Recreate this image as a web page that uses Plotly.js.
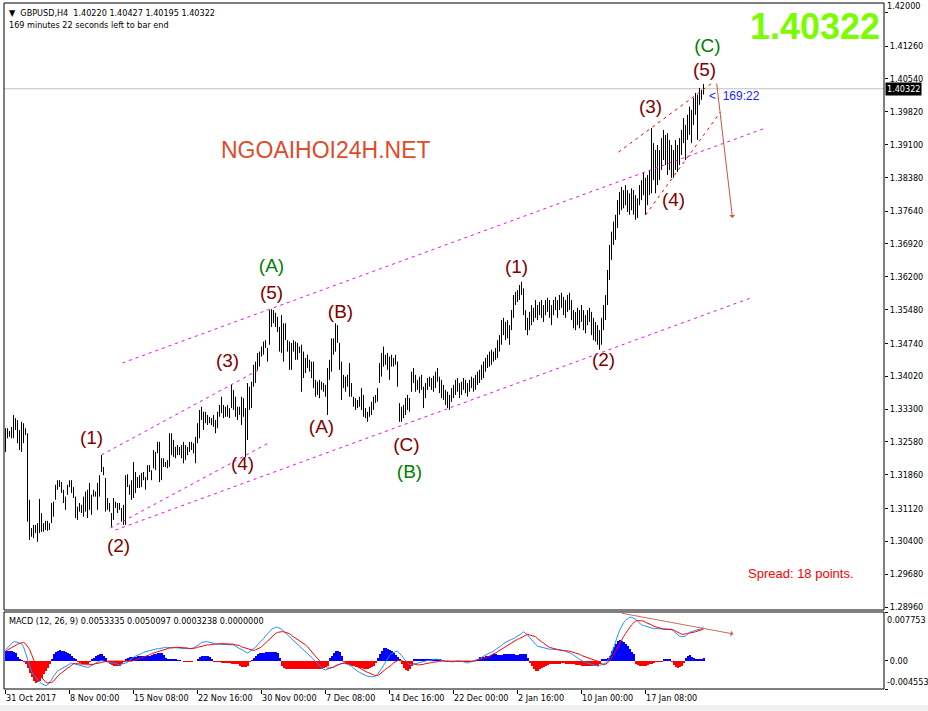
<!DOCTYPE html>
<html><head><meta charset="utf-8">
<script src="https://cdn.plot.ly/plotly-3.0.1.min.js"></script>
<style>html,body{margin:0;padding:0;background:#fff;}#chart{width:928px;height:711px;}</style>
</head><body><div id="chart"></div><script>
// GBPUSD H4 bars (high / low), one per bar, oldest first
const high = [
1.3288,1.3288,1.3282,1.3291,1.3317,1.3310,1.3306,1.3284,1.3302,1.3299,
1.3288,1.3277,1.3131,1.3069,1.3076,1.3076,1.3080,1.3133,1.3102,1.3080,
1.3085,1.3085,1.3080,1.3124,1.3127,1.3164,1.3174,1.3174,1.3170,1.3153,
1.3138,1.3164,1.3174,1.3174,1.3159,1.3138,1.3116,1.3124,1.3120,1.3138,
1.3149,1.3153,1.3168,1.3142,1.3153,1.3149,1.3168,1.3185,1.3229,1.3203,
1.3179,1.3135,1.3124,1.3102,1.3135,1.3127,1.3124,1.3124,1.3113,1.3120,
1.3185,1.3187,1.3164,1.3174,1.3214,1.3192,1.3181,1.3185,1.3190,1.3192,
1.3181,1.3207,1.3207,1.3196,1.3240,1.3236,1.3258,1.3258,1.3222,1.3222,
1.3214,1.3218,1.3277,1.3277,1.3262,1.3247,1.3251,1.3247,1.3251,1.3258,
1.3251,1.3247,1.3258,1.3258,1.3255,1.3269,1.3299,1.3328,1.3335,1.3324,
1.3324,1.3317,1.3313,1.3310,1.3317,1.3306,1.3324,1.3339,1.3357,1.3339,
1.3335,1.3339,1.3332,1.3383,1.3372,1.3357,1.3335,1.3335,1.3357,1.3354,
1.3332,1.3387,1.3379,1.3390,1.3427,1.3434,1.3453,1.3456,1.3467,1.3478,
1.3481,1.3464,1.3547,1.3549,1.3547,1.3541,1.3532,1.3510,1.3536,1.3518,
1.3518,1.3481,1.3478,1.3475,1.3481,1.3478,1.3475,1.3467,1.3471,1.3456,
1.3442,1.3449,1.3438,1.3434,1.3434,1.3394,1.3390,1.3394,1.3390,1.3387,
1.3383,1.3420,1.3438,1.3485,1.3485,1.3518,1.3514,1.3475,1.3434,1.3405,
1.3401,1.3405,1.3431,1.3387,1.3357,1.3354,1.3350,1.3357,1.3376,1.3361,
1.3332,1.3324,1.3335,1.3346,1.3357,1.3361,1.3376,1.3431,1.3453,1.3467,
1.3449,1.3453,1.3445,1.3449,1.3442,1.3449,1.3434,1.3343,1.3335,1.3339,
1.3354,1.3361,1.3354,1.3412,1.3420,1.3405,1.3394,1.3401,1.3405,1.3379,
1.3387,1.3398,1.3401,1.3398,1.3403,1.3412,1.3420,1.3401,1.3394,1.3383,
1.3372,1.3368,1.3361,1.3376,1.3383,1.3394,1.3398,1.3387,1.3390,1.3398,
1.3394,1.3387,1.3394,1.3401,1.3398,1.3405,1.3412,1.3416,1.3427,1.3434,
1.3442,1.3449,1.3456,1.3460,1.3456,1.3464,1.3481,1.3492,1.3525,1.3530,
1.3521,1.3525,1.3514,1.3547,1.3580,1.3587,1.3591,1.3602,1.3609,1.3595,
1.3547,1.3530,1.3543,1.3558,1.3552,1.3569,1.3558,1.3565,1.3569,1.3558,
1.3569,1.3574,1.3569,1.3558,1.3569,1.3576,1.3569,1.3580,1.3585,1.3576,
1.3569,1.3580,1.3585,1.3569,1.3547,1.3543,1.3552,1.3547,1.3558,1.3547,
1.3536,1.3547,1.3552,1.3543,1.3530,1.3521,1.3514,1.3503,1.3530,1.3558,
1.3580,1.3635,1.3690,1.3719,1.3741,1.3756,1.3788,1.3806,1.3817,1.3810,
1.3821,1.3810,1.3803,1.3814,1.3810,1.3799,1.3792,1.3821,1.3832,1.3850,
1.3837,1.3843,1.3854,1.3946,1.3913,1.3898,1.3909,1.3898,1.3924,1.3942,
1.3931,1.3935,1.3920,1.3909,1.3898,1.3920,1.3909,1.3924,1.3942,1.3968,
1.3953,1.3975,1.3993,1.3986,1.4012,1.4023,1.4019,1.4034,1.4030,1.40427];
const low = [
1.3236,1.3266,1.3269,1.3266,1.3266,1.3284,1.3255,1.3240,1.3236,1.3255,
1.3273,1.3083,1.3043,1.3050,1.3047,1.3058,1.3039,1.3058,1.3061,1.3061,
1.3065,1.3063,1.3065,1.3080,1.3094,1.3131,1.3153,1.3159,1.3146,1.3124,
1.3109,1.3142,1.3159,1.3146,1.3135,1.3091,1.3087,1.3105,1.3102,1.3094,
1.3105,1.3091,1.3109,1.3098,1.3138,1.3138,1.3109,1.3138,1.3192,1.3185,
1.3105,1.3109,1.3105,1.3072,1.3087,1.3113,1.3102,1.3109,1.3083,1.3076,
1.3076,1.3159,1.3142,1.3131,1.3135,1.3146,1.3157,1.3157,1.3159,1.3174,
1.3153,1.3174,1.3192,1.3174,1.3200,1.3196,1.3233,1.3170,1.3174,1.3203,
1.3203,1.3200,1.3203,1.3229,1.3225,1.3222,1.3229,1.3229,1.3222,1.3211,
1.3218,1.3229,1.3236,1.3240,1.3233,1.3211,1.3255,1.3266,1.3306,1.3284,
1.3299,1.3295,1.3299,1.3295,1.3291,1.3277,1.3288,1.3313,1.3321,1.3310,
1.3313,1.3313,1.3310,1.3332,1.3328,1.3313,1.3306,1.3317,1.3295,1.3313,
1.3225,1.3262,1.3328,1.3332,1.3379,1.3387,1.3416,1.3423,1.3445,1.3449,
1.3464,1.3434,1.3471,1.3510,1.3518,1.3510,1.3499,1.3456,1.3453,1.3434,
1.3481,1.3456,1.3416,1.3416,1.3456,1.3438,1.3438,1.3453,1.3368,1.3398,
1.3409,1.3420,1.3412,1.3398,1.3376,1.3357,1.3361,1.3354,1.3372,1.3368,
1.3357,1.3317,1.3394,1.3412,1.3449,1.3456,1.3475,1.3416,1.3350,1.3376,
1.3368,1.3379,1.3357,1.3357,1.3335,1.3328,1.3332,1.3335,1.3328,1.3313,
1.3310,1.3302,1.3313,1.3317,1.3328,1.3343,1.3346,1.3387,1.3401,1.3423,
1.3427,1.3416,1.3394,1.3423,1.3423,1.3427,1.3379,1.3302,1.3302,1.3310,
1.3317,1.3328,1.3324,1.3368,1.3387,1.3368,1.3372,1.3365,1.3372,1.3332,
1.3354,1.3372,1.3379,1.3372,1.3368,1.3376,1.3390,1.3365,1.3354,1.3350,
1.3339,1.3332,1.3328,1.3346,1.3354,1.3361,1.3368,1.3354,1.3361,1.3372,
1.3365,1.3357,1.3368,1.3376,1.3368,1.3372,1.3383,1.3387,1.3394,1.3398,
1.3412,1.3420,1.3423,1.3427,1.3434,1.3438,1.3442,1.3456,1.3471,1.3492,
1.3481,1.3485,1.3471,1.3503,1.3530,1.3558,1.3565,1.3569,1.3580,1.3536,
1.3503,1.3492,1.3503,1.3514,1.3521,1.3530,1.3525,1.3536,1.3530,1.3521,
1.3536,1.3543,1.3530,1.3514,1.3536,1.3547,1.3530,1.3547,1.3552,1.3536,
1.3530,1.3543,1.3547,1.3525,1.3507,1.3503,1.3514,1.3507,1.3521,1.3503,
1.3496,1.3514,1.3521,1.3492,1.3481,1.3478,1.3471,1.3460,1.3471,1.3503,
1.3525,1.3558,1.3613,1.3657,1.3690,1.3701,1.3727,1.3756,1.3766,1.3770,
1.3777,1.3762,1.3756,1.3766,1.3756,1.3745,1.3749,1.3777,1.3788,1.3799,
1.3756,1.3777,1.3799,1.3803,1.3832,1.3803,1.3821,1.3832,1.3854,1.3876,
1.3865,1.3843,1.3854,1.3837,1.3837,1.3854,1.3850,1.3865,1.3887,1.3913,
1.3876,1.3920,1.3931,1.3913,1.3953,1.3975,1.3920,1.3997,1.4008,1.40195];
// MACD (12, 26, 9): main line, signal line, histogram (main - signal)
const macdMain = [
.0017,.0020,.0024,.0027,.0030,.0030,.0029,.0029,.0027,.0022,
.0012,.0000,-.0010,-.0017,-.0023,-.0027,-.0031,-.0034,-.0037,-.0039,
-.0040,-.0039,-.0035,-.0031,-.0025,-.0020,-.0017,-.0015,-.0013,-.0011,
-.0009,-.0007,-.0005,-.0004,-.0005,-.0006,-.0007,-.0008,-.0008,-.0009,
-.0010,-.0011,-.0010,-.0008,-.0007,-.0005,-.0003,-.0001,.0000,-.0001,
-.0002,-.0002,-.0003,-.0004,-.0004,-.0005,-.0006,-.0007,-.0006,-.0005,
-.0004,-.0003,.0000,.0003,.0005,.0007,.0008,.0010,.0011,.0013,
.0014,.0015,.0016,.0017,.0018,.0018,.0019,.0019,.0020,.0020,
.0021,.0021,.0021,.0021,.0021,.0021,.0020,.0020,.0019,.0019,
.0019,.0018,.0018,.0019,.0020,.0022,.0023,.0026,.0029,.0030,
.0030,.0030,.0029,.0028,.0027,.0027,.0026,.0026,.0026,.0026,
.0026,.0026,.0025,.0025,.0025,.0023,.0021,.0019,.0017,.0015,
.0013,.0012,.0014,.0016,.0018,.0021,.0025,.0028,.0032,.0035,
.0039,.0042,.0046,.0050,.0052,.0053,.0053,.0052,.0050,.0047,
.0044,.0041,.0038,.0035,.0033,.0030,.0027,.0024,.0021,.0018,
.0015,.0012,.0009,.0005,.0002,-.0002,-.0005,-.0009,-.0012,-.0014,
-.0015,-.0014,-.0012,-.0011,-.0010,-.0008,-.0007,-.0006,-.0005,-.0004,
-.0005,-.0006,-.0007,-.0009,-.0012,-.0015,-.0017,-.0019,-.0021,-.0023,
-.0024,-.0025,-.0026,-.0026,-.0026,-.0025,-.0022,-.0018,-.0013,-.0008,
-.0002,.0004,.0008,.0011,.0013,.0014,.0015,.0012,.0008,.0004,
-.0001,-.0004,-.0006,-.0007,-.0006,-.0005,-.0004,-.0003,-.0002,-.0001,
-.0001,.0000,.0000,.0001,.0001,.0002,.0002,.0001,.0001,.0000,
-.0001,-.0001,-.0002,-.0002,-.0002,-.0001,-.0001,-.0001,-.0001,-.0002,
-.0003,-.0004,-.0003,-.0002,-.0001,.0000,.0002,.0003,.0005,.0007,
.0008,.0010,.0012,.0013,.0015,.0017,.0019,.0021,.0024,.0027,
.0029,.0031,.0033,.0034,.0035,.0037,.0039,.0040,.0043,.0046,
.0044,.0041,.0037,.0033,.0029,.0026,.0023,.0022,.0021,.0021,
.0020,.0019,.0018,.0018,.0018,.0018,.0018,.0017,.0017,.0016,
.0015,.0014,.0013,.0011,.0009,.0006,.0004,.0002,.0000,-.0002,
-.0003,-.0004,-.0005,-.0006,-.0007,-.0008,-.0009,-.0008,-.0007,-.0006,
-.0004,-.0001,.0005,.0011,.0020,.0031,.0039,.0048,.0055,.0060,
.0064,.0067,.0069,.0069,.0068,.0066,.0063,.0060,.0057,.0056,
.0055,.0053,.0052,.0051,.0051,.0051,.0051,.0051,.0051,.0051,
.0051,.0051,.0051,.0050,.0047,.0044,.0041,.0039,.0038,.0038,
.0039,.0042,.0045,.0046,.0047,.0048,.0048,.0049,.0051,.0053335];
const macdSignal = [
.0015,.0017,.0019,.0020,.0022,.0024,.0026,.0027,.0028,.0029,
.0027,.0023,.0018,.0010,.0002,-.0007,-.0016,-.0022,-.0027,-.0031,
-.0034,-.0036,-.0036,-.0035,-.0033,-.0029,-.0026,-.0022,-.0020,-.0017,
-.0014,-.0012,-.0010,-.0007,-.0005,-.0005,-.0005,-.0005,-.0005,-.0005,
-.0006,-.0007,-.0007,-.0006,-.0006,-.0005,-.0005,-.0004,-.0003,-.0002,
-.0001,-.0001,-.0001,-.0001,-.0001,-.0001,-.0002,-.0002,-.0002,-.0002,
-.0002,-.0002,-.0002,-.0001,.0000,.0001,.0002,.0003,.0004,.0006,
.0007,.0008,.0009,.0011,.0012,.0014,.0015,.0016,.0017,.0018,
.0019,.0019,.0020,.0020,.0021,.0021,.0021,.0021,.0021,.0020,
.0020,.0020,.0019,.0019,.0019,.0020,.0021,.0022,.0023,.0023,
.0024,.0025,.0025,.0026,.0026,.0026,.0027,.0027,.0027,.0027,
.0027,.0027,.0027,.0026,.0026,.0025,.0025,.0024,.0022,.0021,
.0019,.0018,.0017,.0016,.0016,.0017,.0018,.0020,.0022,.0025,
.0028,.0031,.0034,.0037,.0041,.0043,.0045,.0046,.0046,.0046,
.0045,.0045,.0043,.0040,.0038,.0036,.0034,.0032,.0030,.0027,
.0025,.0022,.0018,.0014,.0010,.0007,.0003,.0000,-.0003,-.0006,
-.0009,-.0012,-.0012,-.0012,-.0011,-.0009,-.0007,-.0006,-.0005,-.0004,
-.0004,-.0004,-.0005,-.0006,-.0007,-.0009,-.0010,-.0012,-.0014,-.0016,
-.0018,-.0019,-.0020,-.0022,-.0023,-.0024,-.0024,-.0022,-.0019,-.0017,
-.0014,-.0012,-.0010,-.0007,-.0004,-.0002,.0000,.0000,.0000,-.0001,
-.0002,-.0003,-.0004,-.0005,-.0006,-.0006,-.0007,-.0007,-.0007,-.0006,
-.0005,-.0005,-.0004,-.0003,-.0003,-.0002,-.0002,-.0001,-.0001,-.0001,
-.0001,-.0001,-.0001,-.0001,-.0001,-.0001,-.0001,-.0001,-.0001,-.0001,
-.0001,-.0001,-.0001,-.0001,-.0001,-.0001,.0001,.0002,.0002,.0003,
.0004,.0006,.0007,.0009,.0010,.0012,.0014,.0016,.0018,.0021,
.0023,.0025,.0027,.0029,.0030,.0032,.0034,.0035,.0037,.0039,
.0040,.0042,.0041,.0040,.0039,.0038,.0035,.0032,.0030,.0028,
.0025,.0023,.0021,.0020,.0019,.0018,.0017,.0017,.0016,.0016,
.0016,.0016,.0015,.0014,.0013,.0012,.0012,.0010,.0008,.0007,
.0005,.0004,.0003,.0002,.0001,.0000,-.0001,-.0003,-.0005,-.0007,
-.0006,-.0004,-.0001,.0004,.0010,.0016,.0021,.0027,.0033,.0038,
.0043,.0048,.0053,.0057,.0060,.0063,.0064,.0064,.0064,.0063,
.0061,.0060,.0058,.0057,.0055,.0054,.0052,.0051,.0051,.0050,
.0050,.0050,.0049,.0049,.0049,.0047,.0045,.0043,.0042,.0042,
.0042,.0043,.0044,.0044,.0045,.0046,.0047,.0048,.0049,.0050097];
const macdHist = [
.0016,.0016,.0016,.0015,.0014,.0012,.0006,.0002,.0001,-.0002,
-.0006,-.0012,-.0020,-.0027,-.0033,-.0036,-.0035,-.0032,-.0028,-.0022,
-.0017,-.0012,-.0005,.0002,.0010,.0014,.0016,.0017,.0016,.0015,
.0013,.0012,.0010,.0007,.0004,.0002,-.0003,-.0004,-.0005,-.0005,
-.0006,-.0005,-.0002,.0002,.0004,.0007,.0009,.0010,.0011,.0008,
.0004,-.0002,-.0005,-.0007,-.0008,-.0009,-.0009,-.0008,-.0006,-.0003,
.0002,.0004,.0005,.0005,.0005,.0006,.0007,.0007,.0007,.0007,
.0007,.0007,.0008,.0009,.0010,.0011,.0012,.0012,.0012,.0009,
.0004,.0002,.0002,.0002,.0002,.0002,.0001,.0001,-.0001,-.0002,
-.0002,-.0002,-.0002,-.0002,-.0001,-.0001,.0003,.0006,.0007,.0007,
.0007,.0007,.0006,.0002,-.0003,-.0003,-.0003,-.0003,-.0004,-.0004,
-.0004,-.0004,-.0004,-.0005,-.0005,-.0006,-.0006,-.0008,-.0010,-.0011,
-.0010,-.0008,-.0003,.0001,.0004,.0007,.0010,.0012,.0012,.0012,
.0013,.0013,.0013,.0014,.0014,.0013,.0012,.0004,-.0008,-.0012,
-.0013,-.0014,-.0014,-.0014,-.0014,-.0014,-.0014,-.0014,-.0014,-.0014,
-.0014,-.0014,-.0014,-.0014,-.0014,-.0013,-.0013,-.0013,-.0013,-.0012,
-.0011,-.0008,.0004,.0008,.0012,.0015,.0016,.0013,.0008,-.0003,
-.0005,-.0006,-.0007,-.0008,-.0009,-.0010,-.0011,-.0012,-.0012,-.0013,
-.0013,-.0013,-.0012,-.0011,-.0009,-.0004,.0004,.0010,.0016,.0020,
.0020,.0019,.0017,.0015,.0012,.0009,.0006,.0003,-.0006,-.0012,
-.0015,-.0016,-.0013,-.0008,.0002,.0003,.0003,.0003,.0002,.0003,
.0003,.0002,.0003,.0003,.0003,.0002,.0002,.0002,.0001,-.0001,
-.0002,-.0002,-.0002,-.0002,-.0002,-.0002,-.0002,-.0002,-.0002,-.0002,
-.0003,-.0003,-.0002,-.0002,-.0001,.0001,.0003,.0005,.0005,.0006,
.0007,.0007,.0008,.0009,.0010,.0010,.0009,.0009,.0009,.0010,
.0011,.0011,.0011,.0010,.0010,.0009,.0009,.0010,.0010,.0010,
.0010,.0004,-.0004,-.0009,-.0014,-.0017,-.0016,-.0014,-.0012,-.0010,
-.0008,-.0007,-.0006,-.0005,-.0005,-.0005,-.0005,-.0005,-.0004,-.0004,
-.0005,-.0005,-.0005,-.0006,-.0006,-.0007,-.0007,-.0007,-.0008,-.0008,
-.0008,-.0008,-.0008,-.0008,-.0008,-.0008,-.0008,-.0006,.0002,.0002,
.0003,.0004,.0008,.0015,.0021,.0027,.0031,.0032,.0031,.0030,
.0026,.0023,.0019,.0014,.0010,-.0005,-.0007,-.0008,-.0009,-.0009,
-.0008,-.0007,-.0006,-.0005,-.0004,-.0003,-.0003,-.0002,-.0002,.0002,
.0002,.0002,.0002,-.0003,-.0007,-.0010,-.0012,-.0011,-.0008,-.0004,
.0004,.0008,.0009,.0006,.0004,.0002,.0002,.0002,.0002,.0003238];

// time axis labels (bar index where each label sits)
const timeTickIdx = [0,32,64,96,128,160,192,224,256,288,320];
const timeTickText = ['31 Oct 2017','8 Nov 00:00','15 Nov 08:00','22 Nov 16:00','30 Nov 00:00','7 Dec 08:00','14 Dec 16:00','22 Dec 00:00','2 Jan 16:00','10 Jan 00:00','17 Jan 08:00'];
// price axis labels
const priceTicks = [1.42000,1.41260,1.40540,1.39820,1.39100,1.38380,1.37640,1.36920,1.36200,1.35480,1.34740,1.34020,1.33300,1.32580,1.31860,1.31120,1.30400,1.29680,1.28960];
const macdTicks = [0.007753,0,-0.004553];
const lastPrice = 1.40322;
const lastOHLC = [1.40220,1.40427,1.40195,1.40322];
const macdLast = [0.0053335,0.0050097,0.0003238,0.0000000];

// Elliott wave labels (bar index, price)
const waveText = ['(1)','(2)','(3)','(4)','(5)','(A)','(B)','(A)','(C)','(B)','(1)','(2)','(3)','(4)','(5)','(C)'];
const waveX = [43,56.5,111,118.5,133,133,167.5,158,200.5,202,255.5,299,322.5,334,349.5,351];
const waveY = [1.32643,1.30275,1.34331,1.32073,1.35822,1.36414,1.35405,1.32884,1.32489,1.31897,1.36392,1.34353,1.39900,1.37861,1.40711,1.41238];
const waveDegree = ['minor','minor','minor','minor','minor','major','minor','minor','minor','major','minor','minor','minor','minor','minor','major'];

// channel lines (bar index, price) start -> end
const chanX0 = [58.5,55,48,52.5,306.5,320];
const chanY0 = [1.34310,1.30648,1.32293,1.30692,1.38934,1.37555];
const chanX1 = [380,372.5,126.5,131.5,354,357.5];
const chanY1 = [1.39462,1.35734,1.34156,1.32555,1.40470,1.39813];
const chanKind = ['main','main','main','main','wave','wave'];
// projection arrows: price pane and MACD pane (tail -> head)
const priceArrow = {x0:355.5, y0:1.40470, x1:363.5, y1:1.37489};
const macdArrow = {x0:307.5, y0:0.00759, x1:364, y1:0.00424};

const UI = 'DejaVu Sans Condensed, Liberation Sans, sans-serif';
const ARIAL = 'Liberation Sans, Arial, sans-serif';

const idx = high.map((_, i) => i);
const bx = [], by = [];
for (let i = 0; i < high.length; i++) { bx.push(i, i, null); by.push(low[i], high[i], null); }

const traces = [
  {type:'scatter', mode:'lines', x:bx, y:by, xaxis:'x', yaxis:'y',
   line:{color:'#000000', width:1}, hoverinfo:'skip', connectgaps:false},
  {type:'bar', x:idx, y:macdHist, xaxis:'x', yaxis:'y2', width:1,
   marker:{color:macdHist.map(v => v >= 0 ? '#0000FF' : '#FF0000'), line:{width:0}}, hoverinfo:'skip'},
  {type:'scatter', mode:'lines', x:idx, y:macdMain, xaxis:'x', yaxis:'y2',
   line:{color:'#1E90FF', width:1}, hoverinfo:'skip'},
  {type:'scatter', mode:'lines', x:idx, y:macdSignal, xaxis:'x', yaxis:'y2',
   line:{color:'#FF0000', width:1}, hoverinfo:'skip'},
  {type:'scatter', mode:'text', x:waveX, y:waveY, text:waveText, xaxis:'x', yaxis:'y',
   textposition:'middle center', cliponaxis:false,
   textfont:{family:ARIAL, size:19, color:waveDegree.map(d => d === 'major' ? '#008000' : '#800000')},
   hoverinfo:'skip'}
];

// plot area in pixels: left 4, right 884, top 3, bottom 689; main pane bottom 610, MACD pane top 612
const PH = 686;
const mainDom = [(689-610)/PH, 1];
const macdDom = [0, (689-612)/PH];
const py = px => (689 - px) / PH;       // pixel row -> paper y
const pxx = px => (px - 4) / 880;       // pixel col -> paper x

const shapes = [
  {type:'rect', xref:'paper', yref:'paper', x0:-0.02, x1:1.06, y0:py(705), y1:py(713), fillcolor:'#F0F0F0', line:{width:0}, layer:'below'},
  {type:'line', xref:'paper', yref:'y', x0:0, x1:1, y0:lastPrice, y1:lastPrice, line:{color:'#C0C0C0', width:1}, layer:'below'},
  {type:'rect', xref:'paper', yref:'paper', x0:0, x1:1, y0:mainDom[0], y1:1, line:{color:'#000', width:1}},
  {type:'rect', xref:'paper', yref:'paper', x0:0, x1:1, y0:0, y1:macdDom[1], line:{color:'#000', width:1}},
  {type:'line', xref:'paper', yref:'y2', x0:0, x1:1, y0:0, y1:0, line:{color:'#C0C0C0', width:1}, layer:'below', visible:false}
];
for (let k = 0; k < chanX0.length; k++) {
  shapes.push({type:'line', xref:'x', yref:'y', x0:chanX0[k], y0:chanY0[k], x1:chanX1[k], y1:chanY1[k],
    line:{color: chanKind[k] === 'main' ? '#FF00FF' : '#FF0000', width:1, dash:'3px,4px'}});
}

const fmt = v => v.toFixed(5);
const annotations = [
  {xref:'paper', yref:'paper', x:pxx(7), y:py(12.5), xanchor:'left', yanchor:'middle', showarrow:false,
   text:'▼  GBPUSD,H4  ' + lastOHLC.map(fmt).join(' '), font:{family:UI, size:9, color:'#000'}},
  {xref:'paper', yref:'paper', x:pxx(7), y:py(25.5), xanchor:'left', yanchor:'middle', showarrow:false,
   text:'169 minutes 22 seconds left to bar end', font:{family:UI, size:9, color:'#000'}},
  {xref:'paper', yref:'paper', x:pxx(7), y:py(621), xanchor:'left', yanchor:'middle', showarrow:false,
   text:'MACD (12, 26, 9) ' + macdLast.map(v => v.toFixed(7)).join(' '), font:{family:UI, size:9, color:'#000'}},
  {xref:'paper', yref:'paper', x:pxx(815), y:py(27), xanchor:'center', yanchor:'middle', showarrow:false,
   text:'<b>' + fmt(lastPrice) + '</b>', font:{family:ARIAL, size:36, color:'#7CFC00'}},
  {xref:'paper', yref:'paper', x:pxx(326), y:py(150), xanchor:'center', yanchor:'middle', showarrow:false,
   text:'NGOAIHOI24H.NET', font:{family:ARIAL, size:23, color:'#E04B2B'}},
  {xref:'paper', yref:'paper', x:pxx(746), y:py(573), xanchor:'left', yanchor:'middle', showarrow:false,
   text:'Spread: 18 points.', font:{family:ARIAL, size:13, color:'#FF0000'}},
  {xref:'paper', yref:'paper', x:pxx(707), y:py(96), xanchor:'left', yanchor:'middle', showarrow:false,
   text:'<  169:22', font:{family:ARIAL, size:12, color:'#2020FF'}},
  {xref:'paper', yref:'paper', x:pxx(885), y:py(5.5), xanchor:'left', yanchor:'middle', showarrow:false,
   text:fmt(priceTicks[0]), font:{family:UI, size:9, color:'#000'}},
  {xref:'paper', yref:'paper', x:pxx(885), y:py(620), xanchor:'left', yanchor:'middle', showarrow:false,
   text:macdTicks[0].toFixed(6), font:{family:UI, size:9, color:'#000'}},
  {xref:'paper', yref:'paper', x:pxx(885), y:py(682), xanchor:'left', yanchor:'middle', showarrow:false,
   text:macdTicks[2].toFixed(6), font:{family:UI, size:9, color:'#000'}},
  {xref:'paper', yref:'y', x:pxx(885), y:lastPrice, xanchor:'left', yanchor:'middle', showarrow:false,
   text:fmt(lastPrice), bgcolor:'#000000', borderpad:1, font:{family:UI, size:9, color:'#FFFFFF'}},
  {xref:'x', yref:'y', x:priceArrow.x1, y:priceArrow.y1, axref:'x', ayref:'y', ax:priceArrow.x0, ay:priceArrow.y0,
   text:'', showarrow:true, arrowhead:1, arrowsize:1, arrowwidth:1, arrowcolor:'#C8553D'},
  {xref:'x', yref:'y2', x:macdArrow.x1, y:macdArrow.y1, axref:'x', ayref:'y2', ax:macdArrow.x0, ay:macdArrow.y0,
   text:'', showarrow:true, arrowhead:1, arrowsize:1, arrowwidth:1, arrowcolor:'#CD6A5A'}
];

const layout = {
  width:928, height:711, margin:{l:4, r:44, t:3, b:22, pad:0},
  paper_bgcolor:'#FFFFFF', plot_bgcolor:'#FFFFFF', showlegend:false, bargap:0,
  font:{family:UI, size:9, color:'#000'},
  xaxis:{range:[-0.75, 439.25], anchor:'y2', tickvals:timeTickIdx, ticktext:timeTickText,
    ticks:'outside', ticklen:4, tickcolor:'#000', ticklabelposition:'outside right',
    showgrid:false, zeroline:false, showline:false, fixedrange:true, tickfont:{family:UI, size:9, color:'#000'}},
  yaxis:{domain:mainDom, range:[1.288942, 1.422027], side:'right', anchor:'x',
    tickvals:priceTicks, ticktext:priceTicks.map((v, i) => i === 0 ? '' : fmt(v)),
    ticks:'outside', ticklen:3, tickcolor:'#000', showgrid:false, zeroline:false, showline:false,
    fixedrange:true, tickfont:{family:UI, size:9, color:'#000'}},
  yaxis2:{domain:macdDom, range:[-0.004553, 0.007753], side:'right', anchor:'x',
    tickvals:macdTicks, ticktext:macdTicks.map(v => v === 0 ? '0.00' : ''),
    ticks:'outside', ticklen:3, tickcolor:'#000', showgrid:false, zeroline:false, showline:false,
    fixedrange:true, tickfont:{family:UI, size:9, color:'#000'}},
  shapes:shapes, annotations:annotations
};

Plotly.newPlot('chart', traces, layout, {staticPlot:true, displayModeBar:false});
</script></body></html>
